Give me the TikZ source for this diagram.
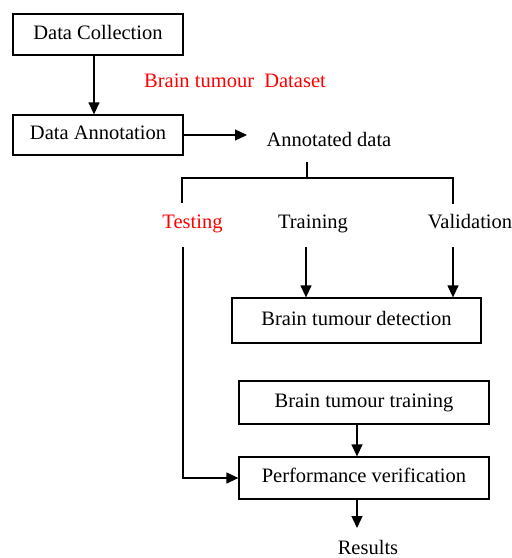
\documentclass[tikz,border=0pt]{standalone}
\usepackage{fontspec}
\setmainfont{Liberation Serif}
\usetikzlibrary{arrows.meta}
\begin{document}
\begin{tikzpicture}[x=1pt,y=-1pt,
  txt/.style={font=\fontsize{20.5}{24}\selectfont, text height=13.5pt, text depth=4.5pt},
  box/.style={txt, draw, line width=1.3pt, inner sep=0pt},
  lbl/.style={txt, inner sep=0pt, anchor=base},
  redlbl/.style={lbl, text=red},
  conn/.style={line width=1.3pt},
  arr/.style={conn, -{Triangle[length=12pt,width=11pt]}}]
\useasboundingbox (0,0) rectangle (512,558);

% process boxes
\node[box, minimum width=170pt, minimum height=41pt] (dc) at (98,34.5) {Data Collection};
\node[box, minimum width=170pt, minimum height=40pt] (da) at (98,135) {Data Annotation};
\node[box, minimum width=249pt, minimum height=45pt] (det) at (356.5,320.5) {Brain tumour detection};
\node[box, minimum width=250pt, minimum height=43pt] (trn) at (364,402.5) {Brain tumour training};
\node[box, minimum width=250pt, minimum height=42pt] (pv) at (364,478) {Performance verification};

% free labels (placed on their baselines)
\node[redlbl] (ds) at (235,87) {Brain tumour\ \ Dataset};
\node[lbl] (ad) at (329,146) {Annotated data};
\node[redlbl] (test) at (192.5,228) {Testing};
\node[lbl] (train) at (313,228) {Training};
\node[lbl] (valid) at (470,228) {Validation};
\node[lbl] (res) at (368,554) {Results};

% helper points
\coordinate (adin) at (247,135);
\coordinate (adout) at (307,162);
\coordinate (split) at (307,178);
\coordinate (bl) at (182,203);
\coordinate (br) at (453,204);
\coordinate (ta) at (306,247);
\coordinate (va) at (453,247);
\coordinate (te) at (183,247);
\coordinate (resin) at (357,528);

% connectors
\draw[arr] ([xshift=-4pt]dc.south) -- ([xshift=-4pt]da.north);
\draw[arr] (da.east) -- (adin);
\draw[conn] (adout) -- (split);
\draw[conn] (bl) -- (bl |- split) -- (br |- split) -- (br);
\draw[arr] (ta) -- (ta |- det.north);
\draw[arr] (va) -- (va |- det.north);
\draw[arr] (te) -- (te |- pv.west) -- (pv.west);
\draw[arr] ([xshift=-7pt]trn.south) -- ([xshift=-7pt]pv.north);
\draw[arr] ([xshift=-7pt]pv.south) -- (resin);
\end{tikzpicture}
\end{document}
